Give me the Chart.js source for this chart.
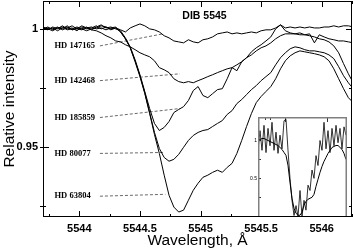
<!DOCTYPE html>
<html>
<head>
<meta charset="utf-8">
<script src="https://cdn.jsdelivr.net/npm/chart.js@4.4.1/dist/chart.umd.min.js"></script>
<style>
  html, body { margin: 0; padding: 0; background: #fff; }
  #wrap { position: relative; width: 353px; height: 250px; }
  #main { position: absolute; left: 0; top: 0; }
  #inset { position: absolute; left: 240px; top: 112px; }
</style>
</head>
<body>
<div id="wrap">
  <canvas id="main" width="353" height="250"></canvas>
  <canvas id="inset" width="113" height="108"></canvas>
</div>
<script>
// wavelength grid (Å)
const wavelengths = [
  5543.70, 5543.74, 5543.78, 5543.82, 5543.86, 5543.90, 5543.94, 5543.98, 5544.02, 5544.06,
  5544.10, 5544.14, 5544.18, 5544.22, 5544.26, 5544.30, 5544.34, 5544.38, 5544.42, 5544.46,
  5544.50, 5544.54, 5544.58, 5544.62, 5544.66, 5544.70, 5544.74, 5544.78, 5544.82, 5544.86,
  5544.90, 5544.94, 5544.98, 5545.02, 5545.06, 5545.10, 5545.14, 5545.18, 5545.22, 5545.26,
  5545.30, 5545.34, 5545.38, 5545.42, 5545.46, 5545.50, 5545.54, 5545.58, 5545.62, 5545.66,
  5545.70, 5545.74, 5545.78, 5545.82, 5545.86, 5545.90, 5545.94, 5545.98, 5546.02, 5546.06,
  5546.10, 5546.14, 5546.18, 5546.22, 5546.26
];

// relative intensity per star
const hd147165 = [
  1.0004, 0.9996, 1.0008, 1.0000, 1.0013, 1.0000, 1.0004, 0.9992, 1.0008, 1.0000,
  1.0004, 1.0013, 1.0000, 1.0008, 0.9996, 1.0004, 0.9996, 0.9987, 1.0004, 1.0013,
  1.0021, 1.0013, 1.0000, 0.9996, 0.9987, 0.9971, 0.9962, 0.9949, 0.9945, 0.9941,
  0.9954, 0.9945, 0.9941, 0.9954, 0.9958, 0.9966, 0.9979, 0.9983, 0.9987, 0.9979,
  0.9983, 0.9979, 0.9983, 0.9987, 0.9983, 0.9992, 0.9996, 0.9996, 1.0004, 1.0017,
  1.0004, 1.0008, 1.0004, 1.0008, 1.0004, 1.0008, 1.0004, 1.0004, 1.0008, 1.0008,
  1.0013, 1.0008, 1.0013, 1.0013, 1.0008
];
const hd142468 = [
  1.0000, 1.0008, 0.9996, 1.0004, 1.0000, 1.0013, 0.9996, 1.0004, 1.0000, 1.0008,
  0.9996, 0.9992, 0.9983, 0.9971, 0.9962, 0.9949, 0.9945, 0.9933, 0.9924, 0.9912,
  0.9899, 0.9890, 0.9882, 0.9865, 0.9836, 0.9827, 0.9815, 0.9789, 0.9777, 0.9772,
  0.9777, 0.9772, 0.9781, 0.9789, 0.9798, 0.9806, 0.9815, 0.9823, 0.9831, 0.9836,
  0.9848, 0.9861, 0.9878, 0.9890, 0.9907, 0.9920, 0.9928, 0.9941, 0.9958, 0.9971,
  0.9979, 0.9979, 0.9979, 0.9975, 0.9975, 0.9971, 0.9966, 0.9958, 0.9954, 0.9945,
  0.9928, 0.9899, 0.9853, 0.9810, 0.9772
];
const hd185859 = [
  1.0008, 1.0000, 1.0004, 0.9992, 1.0004, 1.0008, 0.9996, 1.0000, 1.0013, 1.0004,
  0.9996, 1.0008, 1.0017, 1.0004, 1.0008, 1.0000, 0.9992, 0.9962, 0.9924, 0.9869,
  0.9806, 0.9735, 0.9663, 0.9600, 0.9570, 0.9583, 0.9608, 0.9646, 0.9659, 0.9671,
  0.9697, 0.9739, 0.9756, 0.9718, 0.9709, 0.9726, 0.9743, 0.9747, 0.9789, 0.9836,
  0.9823, 0.9861, 0.9878, 0.9903, 0.9920, 0.9933, 0.9949, 0.9966, 1.0000, 1.0017,
  0.9992, 0.9983, 0.9979, 0.9983, 0.9975, 0.9979, 0.9941, 0.9975, 0.9966, 0.9958,
  0.9954, 0.9949, 0.9949, 0.9945, 0.9941
];
const hd80077 = [
  0.9996, 1.0004, 1.0000, 1.0008, 0.9996, 1.0004, 1.0013, 1.0000, 0.9996, 1.0004,
  1.0008, 1.0000, 1.0004, 0.9996, 1.0004, 1.0008, 0.9987, 0.9958, 0.9920, 0.9865,
  0.9802, 0.9730, 0.9646, 0.9562, 0.9494, 0.9456, 0.9440, 0.9448, 0.9469, 0.9499,
  0.9528, 0.9549, 0.9562, 0.9570, 0.9574, 0.9587, 0.9600, 0.9612, 0.9638, 0.9654,
  0.9684, 0.9701, 0.9722, 0.9743, 0.9760, 0.9781, 0.9798, 0.9815, 0.9848, 0.9878,
  0.9899, 0.9916, 0.9924, 0.9920, 0.9912, 0.9907, 0.9907, 0.9903, 0.9899, 0.9890,
  0.9874, 0.9840, 0.9802, 0.9772, 0.9747
];
const hd63804 = [
  1.0004, 1.0000, 0.9992, 1.0004, 1.0008, 0.9996, 1.0000, 1.0008, 1.0000, 0.9992,
  1.0000, 1.0004, 1.0013, 1.0008, 1.0000, 1.0004, 0.9987, 0.9958, 0.9920, 0.9861,
  0.9798, 0.9726, 0.9642, 0.9553, 0.9473, 0.9381, 0.9296, 0.9246, 0.9225, 0.9233,
  0.9275, 0.9317, 0.9347, 0.9372, 0.9381, 0.9393, 0.9402, 0.9393, 0.9414, 0.9431,
  0.9473, 0.9528, 0.9587, 0.9642, 0.9688, 0.9714, 0.9735, 0.9756, 0.9789, 0.9831,
  0.9865, 0.9886, 0.9899, 0.9907, 0.9903, 0.9899, 0.9895, 0.9890, 0.9882, 0.9865,
  0.9831, 0.9789, 0.9747, 0.9709, 0.9688
];

const starNames = ['HD 147165', 'HD 142468', 'HD 185859', 'HD 80077', 'HD 63804'];
const leaderFrom = [[5544.17, 0.9928], [5544.17, 0.9781], [5544.17, 0.9625], [5544.17, 0.9473], [5544.17, 0.9292]];
const leaderTo = [[5544.69, 0.9979], [5544.83, 0.9810], [5544.83, 0.9663], [5544.69, 0.9477], [5544.71, 0.9300]];

const xLabelTicks = [5544, 5544.5, 5545, 5545.5, 5546];
const xTickMarks = [5543.75, 5544, 5544.25, 5544.5, 5544.75, 5545, 5545.25, 5545.5, 5545.75, 5546, 5546.25];
const yLabelTicks = [0.95, 1];
const yTickMarks = [0.925, 0.95, 0.975, 1];

// inset: noisy profile and smooth fit (arbitrary x units)
const insetX = [
  0, 2, 4, 6, 8, 10, 12, 14, 16, 18, 20, 22, 24, 26, 28, 30, 32, 34, 36, 38, 40, 42,
  44, 46, 48, 50, 52, 54, 56, 58, 60, 62, 64, 66, 68, 70, 72, 74, 76, 78, 80, 82, 84, 86, 88
];
const insetNoisy = [
  0.87, 1.13, 0.87, 1.20, 0.84, 1.16, 0.93, 1.24, 0.87, 1.11,
  0.83, 1.07, 0.89, 1.26, 1.28, 0.87, 0.50, 0.21, 0.01, 0.14,
  0.00, 0.34, 0.00, 0.21, 0.08, 0.41, 0.34, 0.61, 0.50, 0.80,
  0.67, 1.00, 0.87, 1.24, 0.89, 1.13, 0.84, 1.16, 0.93, 1.20,
  0.97, 1.16, 0.89, 1.18, 1.07
];
const insetSmooth = [
  1.013, 1.013, 1.026, 1.026, 1.013, 1.000, 0.987, 0.974, 0.961, 0.947,
  0.934, 0.908, 0.882, 0.842, 0.803, 0.671, 0.447, 0.237, 0.105, 0.039,
  0.013, 0.013, 0.053, 0.145, 0.197, 0.224, 0.237, 0.250, 0.289, 0.395,
  0.487, 0.579, 0.658, 0.724, 0.776, 0.829, 0.868, 0.908, 0.921, 0.934,
  0.934, 0.908, 0.882, 0.829, 0.750
];
const insetYTicks = [0.25, 0.5, 0.75, 1];
const insetYLabels = [0.5, 1];
const insetXTicks = [7, 12, 27, 69];

const sans = '"Liberation Sans", Arial, sans-serif';
const serif = '"Liberation Serif", "Times New Roman", serif';

function toPoints(xs, ys) {
  return xs.map((x, i) => ({ x: x, y: ys[i] }));
}

// fixed box sizes, no extra label padding from Chart.js
function fixBox(w, h) {
  return s => {
    if (w !== null) s.width = w;
    if (h !== null) s.height = h;
    s.paddingTop = 0; s.paddingBottom = 0; s.paddingLeft = 0; s.paddingRight = 0;
  };
}

const spectra = [hd147165, hd142468, hd185859, hd80077, hd63804].map(s => ({
  data: toPoints(wavelengths, s),
  borderColor: '#000',
  borderWidth: 1,
  pointRadius: 0,
  tension: 0
}));

const leaders = leaderFrom.map((p, i) => ({
  data: [{ x: p[0], y: p[1] }, { x: leaderTo[i][0], y: leaderTo[i][1] }],
  borderColor: '#444',
  borderWidth: 0.8,
  borderDash: [3, 2],
  pointRadius: 0
}));

const mainFrame = {
  id: 'mainFrame',
  afterDraw(chart) {
    const { ctx, chartArea: a } = chart;
    const x = chart.scales.x, y = chart.scales.y;
    ctx.save();
    ctx.strokeStyle = '#000';
    ctx.lineWidth = 1;
    ctx.strokeRect(a.left + 0.5, a.top + 0.5, a.right - a.left - 1, a.bottom - a.top - 1);
    ctx.beginPath();
    xTickMarks.forEach(v => {
      const p = Math.round(x.getPixelForValue(v)) + 0.5;
      const len = xLabelTicks.includes(v) ? 6 : 3;
      ctx.moveTo(p, a.top); ctx.lineTo(p, a.top + len);
      ctx.moveTo(p, a.bottom); ctx.lineTo(p, a.bottom - len);
    });
    yTickMarks.forEach(v => {
      const p = Math.round(y.getPixelForValue(v)) + 0.5;
      const len = yLabelTicks.includes(v) ? 6 : 3;
      ctx.moveTo(a.left - 3, p); ctx.lineTo(a.left + len, p);
      ctx.moveTo(a.right, p); ctx.lineTo(a.right - len, p);
    });
    ctx.stroke();

    ctx.fillStyle = '#000';
    ctx.textBaseline = 'middle';
    ctx.textAlign = 'left';
    ctx.font = 'bold 10.5px ' + sans;
    ctx.fillText('DIB 5545', x.getPixelForValue(5544.85), y.getPixelForValue(1.0055));

    ctx.font = 'bold 8.5px ' + serif;
    starNames.forEach((name, i) => {
      ctx.fillText(name, x.getPixelForValue(5543.795), y.getPixelForValue(leaderFrom[i][1]));
    });
    ctx.restore();
  }
};

new Chart(document.getElementById('main'), {
  type: 'line',
  data: { datasets: spectra.concat(leaders) },
  options: {
    responsive: false,
    animation: false,
    layout: { padding: { top: 1, right: 1, left: 0, bottom: 0 } },
    plugins: { legend: { display: false }, tooltip: { enabled: false } },
    scales: {
      x: {
        type: 'linear',
        min: 5543.70,
        max: 5546.25,
        afterBuildTicks: s => { s.ticks = xLabelTicks.map(v => ({ value: v })); },
        afterFit: fixBox(null, 33),
        grid: { display: false, drawTicks: false },
        border: { display: false },
        ticks: {
          autoSkip: false, maxRotation: 0, padding: 5, color: '#000',
          font: { family: sans, size: 11, weight: 'bold' },
          callback: v => String(v)
        },
        title: {
          display: true, text: 'Wavelength, Å', color: '#000', padding: 0,
          font: { family: sans, size: 15.5 }
        }
      },
      y: {
        type: 'linear',
        min: 0.9204,
        max: 1.0118,
        afterBuildTicks: s => { s.ticks = yLabelTicks.map(v => ({ value: v })); },
        afterFit: fixBox(43, null),
        grid: { display: false, drawTicks: false },
        border: { display: false },
        ticks: {
          autoSkip: false, padding: 5, color: '#000',
          font: { family: sans, size: 11, weight: 'bold' },
          callback: v => String(v)
        },
        title: {
          display: true, text: 'Relative intensity', color: '#000', padding: 0,
          font: { family: sans, size: 15.5 }
        }
      }
    }
  },
  plugins: [mainFrame]
});

const insetDeco = {
  id: 'insetDeco',
  beforeDraw(chart) {
    const { ctx, chartArea: a } = chart;
    ctx.save();
    ctx.fillStyle = '#fff';
    ctx.fillRect(a.left, a.top, a.right - a.left, a.bottom - a.top - 1);
    ctx.restore();
  },
  afterDraw(chart) {
    const { ctx, chartArea: a } = chart;
    const x = chart.scales.x, y = chart.scales.y;
    ctx.save();
    ctx.strokeStyle = '#000';
    ctx.lineWidth = 0.8;
    ctx.beginPath();
    insetYTicks.forEach(v => {
      const p = Math.round(y.getPixelForValue(v)) + 0.5;
      ctx.moveTo(a.left, p); ctx.lineTo(a.left + 3, p);
    });
    insetXTicks.forEach(v => {
      const p = Math.round(x.getPixelForValue(v)) + 0.5;
      const len = v > 20 ? 5 : 3;
      ctx.moveTo(p, a.top); ctx.lineTo(p, a.top + len);
    });
    ctx.stroke();
    ctx.strokeStyle = '#808080';
    ctx.lineWidth = 1.5;
    ctx.beginPath();
    ctx.moveTo(a.left + 0.75, a.bottom - 1);
    ctx.lineTo(a.left + 0.75, a.top + 0.75);
    ctx.lineTo(a.right - 0.75, a.top + 0.75);
    ctx.lineTo(a.right - 0.75, a.bottom - 1);
    ctx.stroke();
    ctx.restore();
  }
};

new Chart(document.getElementById('inset'), {
  type: 'line',
  data: {
    datasets: [
      { data: toPoints(insetX, insetNoisy), borderColor: '#000', borderWidth: 0.8, pointRadius: 0 },
      { data: toPoints(insetX, insetSmooth), borderColor: '#000', borderWidth: 1, pointRadius: 0 }
    ]
  },
  options: {
    responsive: false,
    animation: false,
    layout: { padding: { top: 5, right: 6, left: 0, bottom: 0 } },
    plugins: { legend: { display: false }, tooltip: { enabled: false } },
    scales: {
      x: {
        type: 'linear', min: 0, max: 89,
        afterFit: fixBox(null, 3),
        ticks: { display: false },
        grid: { display: false, drawTicks: false },
        border: { display: false }
      },
      y: {
        type: 'linear', min: -0.01, max: 1.31,
        afterBuildTicks: s => { s.ticks = insetYLabels.map(v => ({ value: v })); },
        afterFit: fixBox(18, null),
        grid: { display: false, drawTicks: false },
        border: { display: false },
        ticks: {
          autoSkip: false, padding: 1, color: '#000',
          font: { family: sans, size: 5 },
          callback: v => String(v)
        }
      }
    }
  },
  plugins: [insetDeco]
});
</script>
</body>
</html>
